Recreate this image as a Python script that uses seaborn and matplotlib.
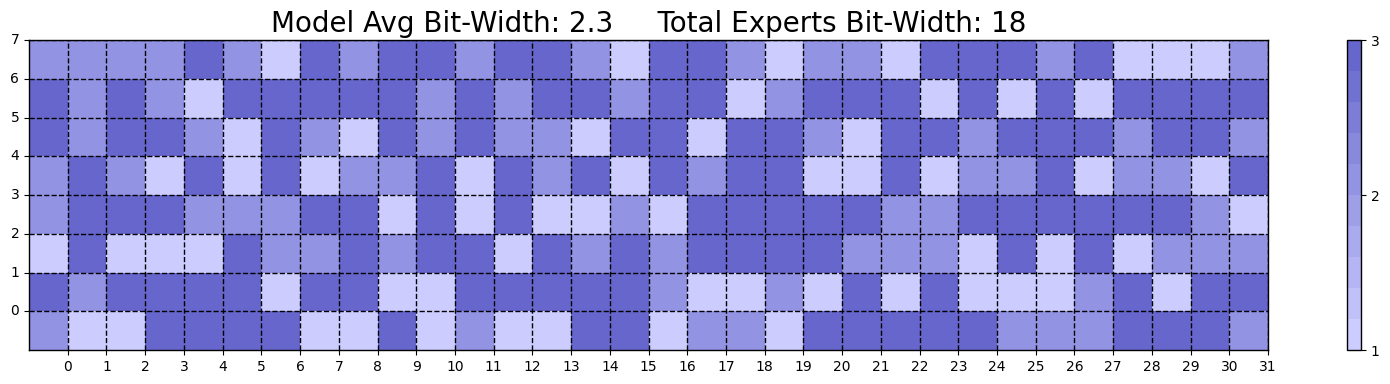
import matplotlib
matplotlib.use("Agg")
import matplotlib.pyplot as plt
from matplotlib.colors import LinearSegmentedColormap
import seaborn as sns
import numpy as np

# bit-width per expert, rows listed from layer 7 (top) down to layer 0
layer_7 = [2, 2, 2, 2, 3, 2, 1, 3, 2, 3, 3, 2, 3, 3, 2, 1, 3, 3, 2, 1, 2, 2, 1, 3, 3, 3, 2, 3, 1, 1, 1, 2]
layer_6 = [3, 2, 3, 2, 1, 3, 3, 3, 3, 3, 2, 3, 2, 3, 3, 2, 3, 3, 1, 2, 3, 3, 3, 1, 3, 1, 3, 1, 3, 3, 3, 3]
layer_5 = [3, 2, 3, 3, 2, 1, 3, 2, 1, 3, 2, 3, 2, 2, 1, 3, 3, 1, 3, 3, 2, 1, 3, 3, 2, 3, 3, 3, 2, 3, 3, 2]
layer_4 = [2, 3, 2, 1, 3, 1, 3, 1, 2, 2, 3, 1, 3, 2, 3, 1, 3, 2, 3, 3, 1, 1, 3, 1, 2, 2, 3, 1, 2, 2, 1, 3]
layer_3 = [2, 3, 3, 3, 2, 2, 2, 3, 3, 1, 3, 1, 3, 1, 1, 2, 1, 3, 3, 3, 3, 3, 2, 2, 3, 3, 3, 3, 3, 3, 2, 1]
layer_2 = [1, 3, 1, 1, 1, 3, 2, 2, 3, 2, 3, 3, 1, 3, 2, 3, 2, 3, 3, 3, 3, 2, 2, 2, 1, 3, 1, 3, 1, 2, 2, 2]
layer_1 = [3, 2, 3, 3, 3, 3, 1, 3, 3, 1, 1, 3, 3, 3, 3, 3, 2, 1, 1, 2, 1, 3, 1, 3, 1, 1, 1, 2, 3, 1, 3, 3]
layer_0 = [2, 1, 1, 3, 3, 3, 3, 1, 1, 3, 1, 2, 1, 1, 3, 3, 1, 2, 2, 1, 3, 3, 3, 3, 3, 2, 2, 2, 3, 3, 3, 2]

x_labels = [str(i) for i in range(32)]
y_labels = [str(i) for i in range(7, -1, -1)]

data = np.array([layer_7, layer_6, layer_5, layer_4, layer_3, layer_2, layer_1, layer_0])

cmap = LinearSegmentedColormap.from_list("bits", ["#ccccff", "#6666cc"], N=10)

fig = plt.figure(figsize=(13.9, 3.84), dpi=100)
ax = fig.add_axes([0.0209, 0.0885, 0.8914, 0.8073])
cax = fig.add_axes([0.9691, 0.0885, 0.0101, 0.8073])

sns.heatmap(data, cmap=cmap, vmin=1, vmax=3, ax=ax, cbar_ax=cax,
            cbar_kws={"ticks": [1, 2, 3]})

ax.set_xticks(np.arange(1, 33))
ax.set_xticklabels(x_labels, rotation=0)
ax.set_yticks(np.arange(0, 8))
ax.set_yticklabels(y_labels, rotation=0)
ax.tick_params(length=3.5)

for s in ax.spines.values():
    s.set_visible(True)
    s.set_color("black")
    s.set_linewidth(1)

ax.set_axisbelow(False)
ax.grid(True, color="black", linestyle="--", linewidth=1)

cbar = ax.collections[0].colorbar
cbar.outline.set_visible(True)
cbar.outline.set_linewidth(1)
cbar.outline.set_edgecolor("black")

ax.set_title("Model Avg Bit-Width: 2.3     Total Experts Bit-Width: 18", fontsize=20)

fig.savefig("out.png", dpi=100)
